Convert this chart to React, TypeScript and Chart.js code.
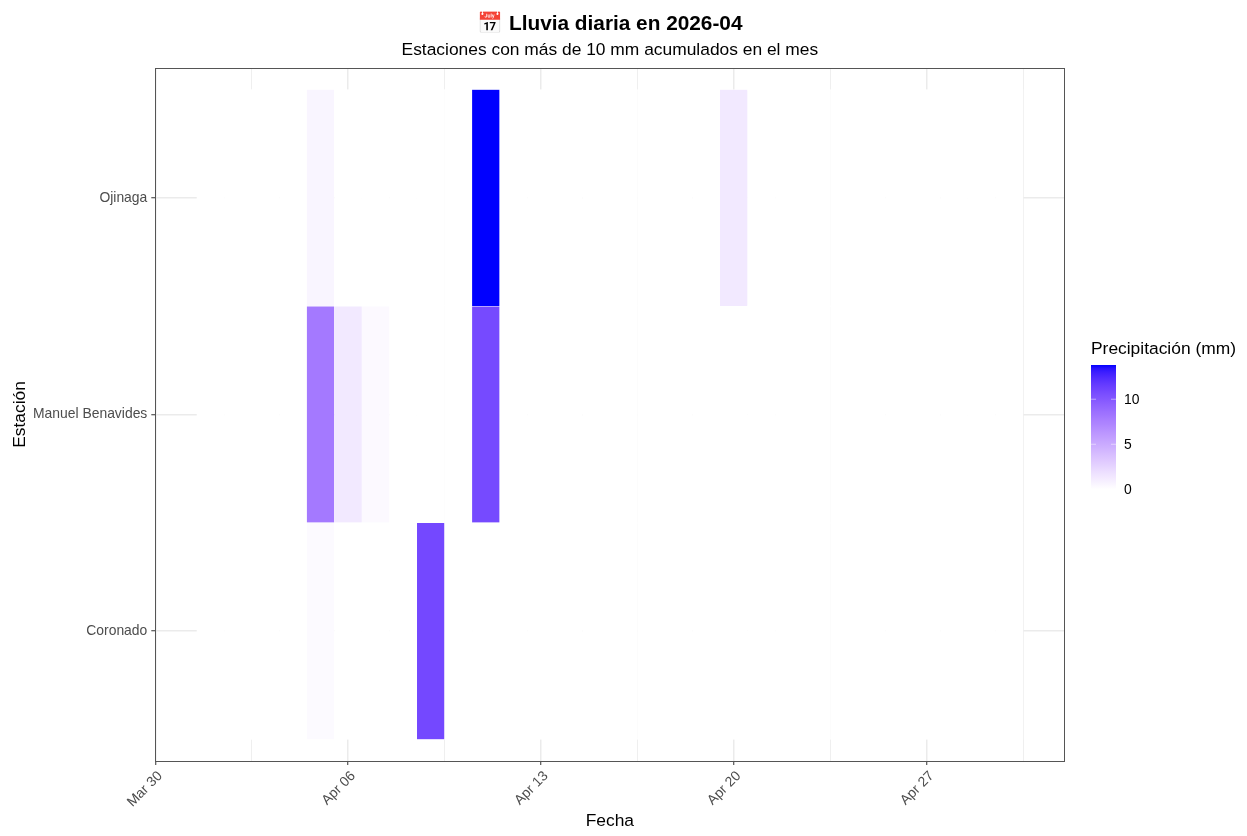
import React, { useEffect, useRef } from "react";
import { Chart, registerables } from "chart.js";

Chart.register(...registerables);

const FONT = '"Liberation Sans", Arial, sans-serif';

const stations = ["Coronado", "Manuel Benavides", "Ojinaga"];
const days = [1, 2, 3, 4, 5, 6, 7, 8, 9, 10, 11, 12, 13, 14, 15, 16, 17, 18, 19, 20, 21, 22, 23, 24, 25, 26, 27, 28, 29, 30];
const coronado = [0, 0, 0, 0, 0.3, 0, 0, 0, 10.9, 0, 0, 0, 0, 0, 0, 0, 0, 0, 0, 0, 0, 0, 0, 0, 0, 0, 0, 0, 0, 0];
const manuelBenavides = [0, 0, 0, 0, 8, 1.3, 0.35, 0, 0, 0, 10.8, 0, 0, 0, 0, 0, 0, 0, 0, 0, 0, 0, 0, 0, 0, 0, 0, 0, 0, 0];
const ojinaga = [0, 0, 0, 0, 0.6, 0, 0, 0, 0, 0, 13.8, 0, 0, 0, 0, 0, 0, 0, 0, 1.3, 0, 0, 0, 0, 0, 0, 0, 0, 0, 0];
const stationValues = [coronado, manuelBenavides, ojinaga];

const xMajorDays = [-1, 6, 13, 20, 27];
const xMajorLabels = ["Mar 30", "Apr 06", "Apr 13", "Apr 20", "Apr 27"];
const xMinorDays = [2.5, 9.5, 16.5, 23.5, 30.5];
const legendTicks = [0, 5, 10];
const legendMax = 13.8;

function labToRgb(L: number, a: number, b: number) {
  const fy = (L + 16) / 116;
  const fx = fy + a / 500;
  const fz = fy - b / 200;
  const inv = (t: number) => (t > 6 / 29 ? t * t * t : 3 * (6 / 29) * (6 / 29) * (t - 4 / 29));
  const X = 0.95047 * inv(fx);
  const Y = inv(fy);
  const Z = 1.08883 * inv(fz);
  const lin = [
    3.2406 * X - 1.5372 * Y - 0.4986 * Z,
    -0.9689 * X + 1.8758 * Y + 0.0415 * Z,
    0.0557 * X - 0.204 * Y + 1.057 * Z,
  ];
  const c = lin.map((v) => {
    const u = Math.min(1, Math.max(0, v));
    const s = u <= 0.0031308 ? 12.92 * u : 1.055 * Math.pow(u, 1 / 2.4) - 0.055;
    return Math.round(s * 255);
  });
  return `rgb(${c[0]},${c[1]},${c[2]})`;
}

function colorFor(v: number) {
  const t = Math.min(1, Math.max(0, v / legendMax));
  return labToRgb(100 + (32.3 - 100) * t, 79.19 * t, -107.86 * t);
}

const panelFrame = {
  id: "panelFrame",
  afterDraw(chart: any) {
    const { ctx, chartArea: a } = chart;
    ctx.save();
    ctx.strokeStyle = "#555555";
    ctx.lineWidth = 1;
    ctx.strokeRect(Math.round(a.left) + 0.5, Math.round(a.top) + 0.5, Math.round(a.right - a.left), Math.round(a.bottom - a.top));
    ctx.restore();
  },
};

const colorLegend = {
  id: "colorLegend",
  afterDraw(chart: any) {
    const { ctx } = chart;
    const left = 1091;
    const right = 1116;
    const top = 365;
    const bottom = 489.3;
    const perUnit = (bottom - top) / legendMax;
    ctx.save();
    const g = ctx.createLinearGradient(0, bottom, 0, top);
    for (let i = 0; i <= 40; i++) g.addColorStop(i / 40, colorFor((legendMax * i) / 40));
    ctx.fillStyle = g;
    ctx.fillRect(left, top, right - left, bottom - top);
    ctx.fillStyle = "#000000";
    ctx.font = `17.4px ${FONT}`;
    ctx.textAlign = "left";
    ctx.textBaseline = "alphabetic";
    ctx.fillText("Precipitación (mm)", 1091, 354);
    ctx.font = `13.9px ${FONT}`;
    ctx.textBaseline = "middle";
    for (const t of legendTicks) {
      const y = bottom - t * perUnit;
      ctx.fillStyle = "#000000";
      ctx.fillText(String(t), 1124, y + 0.5);
      if (t > 0) {
        ctx.strokeStyle = "rgba(255,255,255,0.8)";
        ctx.lineWidth = 0.6;
        ctx.beginPath();
        ctx.moveTo(left, y);
        ctx.lineTo(left + 5, y);
        ctx.moveTo(right - 5, y);
        ctx.lineTo(right, y);
        ctx.stroke();
      }
    }
    ctx.restore();
  },
};

export default function App() {
  const ref = useRef<HTMLCanvasElement>(null);
  useEffect(() => {
    const chart = new Chart(ref.current as HTMLCanvasElement, {
      type: "bar",
      data: {
        datasets: stations.map((name, si) => ({
          label: name,
          data: days.map((d) => ({ x: [d - 0.5, d + 0.5], y: si })),
          backgroundColor: stationValues[si].map(colorFor),
          borderColor: "#ffffff",
          borderWidth: 0.5,
          grouped: false,
          categoryPercentage: 1,
          barPercentage: 1,
        })),
      } as any,
      plugins: [panelFrame, colorLegend],
      options: {
        indexAxis: "y",
        responsive: false,
        animation: false,
        layout: { padding: { top: 0, left: 0, right: 182.6, bottom: 0 } },
        plugins: {
          legend: { display: false },
          tooltip: { enabled: false },
          title: {
            display: true,
            text: "📅 Lluvia diaria en 2026-04",
            color: "#000000",
            fullSize: false,
            font: { family: FONT, size: 20.8, weight: "bold" },
            padding: { top: 12, bottom: 3.1 },
          },
          subtitle: {
            display: true,
            text: "Estaciones con más de 10 mm acumulados en el mes",
            color: "#000000",
            fullSize: false,
            font: { family: FONT, size: 17.4, weight: "normal" },
            padding: { top: 0, bottom: 7.06 },
          },
        },
        scales: {
          x: {
            type: "linear",
            min: -1,
            max: 32,
            afterFit: (s: any) => {
              s.height = 75;
            },
            afterBuildTicks: (s: any) => {
              s.ticks = [...xMajorDays, ...xMinorDays].sort((a, b) => a - b).map((value) => ({ value }));
            },
            border: { display: false },
            grid: {
              color: "#ebebeb",
              lineWidth: (c: any) => (xMajorDays.includes(c.tick?.value) ? 1.5 : 0.8),
              tickColor: (c: any) => (xMajorDays.includes(c.tick?.value) ? "#333333" : "rgba(0,0,0,0)"),
              tickWidth: 1,
              tickLength: 4,
            },
            ticks: {
              autoSkip: false,
              maxRotation: 45,
              minRotation: 45,
              padding: 3,
              labelOffset: 5,
              color: "#4d4d4d",
              font: { family: FONT, size: 13.9 },
              callback: (v: any) => {
                const i = xMajorDays.indexOf(Number(v));
                return i >= 0 ? xMajorLabels[i] : "";
              },
            },
            title: {
              display: true,
              text: "Fecha",
              color: "#000000",
              font: { family: FONT, size: 17.4 },
              padding: { top: 0, bottom: 4 },
            },
          },
          y: {
            type: "linear",
            min: -0.6,
            max: 2.6,
            offset: false,
            afterFit: (s: any) => {
              s.width = 155.3;
            },
            afterBuildTicks: (s: any) => {
              s.ticks = stations.map((_, value) => ({ value }));
            },
            border: { display: false },
            grid: {
              offset: false,
              color: "#ebebeb",
              lineWidth: 1.5,
              tickColor: "#333333",
              tickWidth: 1,
              tickLength: 4,
            },
            ticks: {
              autoSkip: false,
              padding: 4,
              color: "#4d4d4d",
              font: { family: FONT, size: 13.9 },
              callback: (v: any) => stations[Number(v)] ?? "",
            },
            title: {
              display: true,
              text: "Estación",
              color: "#000000",
              font: { family: FONT, size: 17.4 },
              padding: { top: 10, bottom: 0 },
            },
          },
        },
      } as any,
    });
    return () => chart.destroy();
  }, []);
  return (
    <div style={{ position: "fixed", left: 0, top: 0, width: 1247, height: 836, background: "#ffffff" }}>
      <canvas ref={ref} width={1247} height={836} style={{ display: "block" }} />
    </div>
  );
}
